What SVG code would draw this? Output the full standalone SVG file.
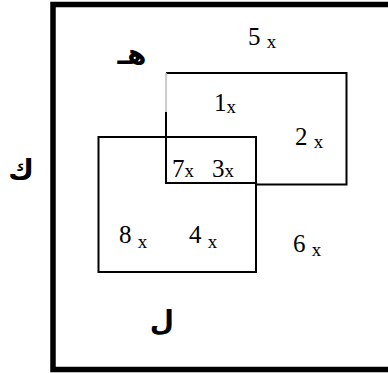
<svg xmlns="http://www.w3.org/2000/svg" width="388" height="373" viewBox="0 0 388 373">
<style>
.n{font-family:"Liberation Serif","Times New Roman",serif;font-size:25px;fill:#000}
.s{font-size:19px}
.ar{font-family:"DejaVu Sans","Noto Sans",sans-serif;font-weight:bold;font-size:28px;fill:#000}
.ln{stroke:#000;stroke-width:2;fill:none}
</style>
<rect width="388" height="373" fill="#fff"/>
<g id="universe">
<path d="M400,4.5 H53 V369.5 H400" fill="none" stroke="#000" stroke-width="5.5"/>
<text class="ar" x="21" y="179" text-anchor="middle">ك</text>
<text class="n" x="248" y="45">5 <tspan class="s" dy="3">x</tspan></text>
<text class="n" x="293" y="252">6 <tspan class="s" dy="4">x</tspan></text>
</g>
<g id="set-h">
<path d="M166,73 H346.5 V184.5 H256" class="ln"/>
<path d="M166,73 V113" stroke="#bbb" stroke-width="1.5" fill="none"/>
<path d="M166,112 V183 H256" class="ln" stroke-width="2.5"/>
<text class="ar" x="132" y="64" text-anchor="middle">هـ</text>
<text class="n" x="214" y="111">1<tspan class="s" dy="2">x</tspan></text>
<text class="n" x="295" y="145">2 <tspan class="s" dy="3">x</tspan></text>
<text class="n" x="172" y="177">7<tspan class="s">x</tspan></text>
<text class="n" x="212" y="177">3<tspan class="s">x</tspan></text>
</g>
<g id="set-l">
<rect x="98.5" y="137" width="157.5" height="135" class="ln"/>
<text class="ar" x="162" y="330" text-anchor="middle">ل</text>
<text class="n" x="119" y="243">8 <tspan class="s" dy="5">x</tspan></text>
<text class="n" x="189" y="243">4 <tspan class="s" dy="5">x</tspan></text>
</g>
</svg>
